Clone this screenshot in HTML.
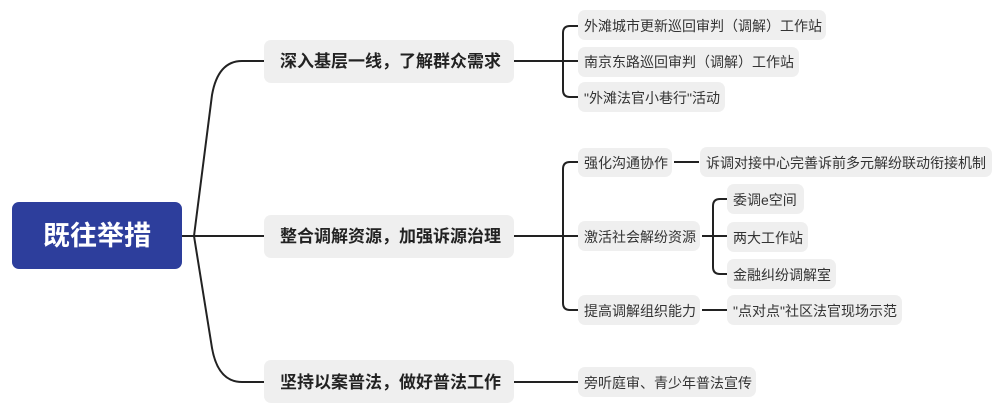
<!DOCTYPE html>
<html><head><meta charset="utf-8"><style>
html,body{margin:0;padding:0;background:#fff;width:999px;height:413px;overflow:hidden}
text{font-family:"Liberation Sans","Noto Sans CJK SC",sans-serif}
.b{font-size:17px;font-weight:bold;fill:#222}
.s{font-size:14px;fill:#333}
</style></head><body>
<svg width="999" height="413" viewBox="0 0 999 413">
<g fill="none" stroke="#222" stroke-width="2">
<path d="M182 236 H194"/>
<path d="M194 236 L212 95 Q218 61 242 61 H264"/>
<path d="M194 236 H264"/>
<path d="M194 236 L212 348 Q218 382 242 382 H264"/>
<path d="M514 61 H578"/>
<path d="M578 26 H570 Q563 26 563 33 V90 Q563 97 570 97 H578"/>
<path d="M514 236 H578"/>
<path d="M578 162 H570 Q563 162 563 169 V303 Q563 310 570 310 H578"/>
<path d="M514 382 H578"/>
<path d="M674 162 H699"/>
<path d="M702 236 H727"/>
<path d="M727 199 H720 Q713 199 713 206 V267 Q713 274 720 274 H727"/>
<path d="M702 310 H727"/>
</g>
<rect x="12" y="202" width="170" height="67" rx="7" fill="#2D3E9C"/>
<text x="97" y="245" text-anchor="middle" font-size="27" font-weight="bold" fill="#fff">既往举措</text>
<g fill="#efefef">
<rect x="264" y="40" width="250" height="43" rx="7"/>
<rect x="264" y="215" width="250" height="43" rx="7"/>
<rect x="264" y="360" width="250" height="43" rx="7"/>
<rect x="578" y="10" width="248" height="30" rx="7"/>
<rect x="578" y="47" width="221" height="30" rx="7"/>
<rect x="578" y="82" width="147" height="30" rx="7"/>
<rect x="578" y="148" width="94" height="29" rx="7"/>
<rect x="700" y="147" width="292" height="30" rx="7"/>
<rect x="578" y="221" width="122" height="30" rx="7"/>
<rect x="727" y="184" width="77" height="30" rx="7"/>
<rect x="727" y="222" width="81" height="30" rx="7"/>
<rect x="727" y="259" width="109" height="30" rx="7"/>
<rect x="578" y="295" width="122" height="30" rx="7"/>
<rect x="727" y="295" width="175" height="30" rx="7"/>
<rect x="578" y="367" width="178" height="30" rx="7"/>
</g>
<text class="b" x="280" y="67">深入基层一线，了解群众需求</text>
<text class="b" x="280" y="242">整合调解资源，加强诉源治理</text>
<text class="b" x="280" y="388">坚持以案普法，做好普法工作</text>
<text class="s" x="584" y="31">外滩城市更新巡回审判（调解）工作站</text>
<text class="s" x="584" y="67">南京东路巡回审判（调解）工作站</text>
<text class="s" x="584" y="103">"外滩法官小巷行"活动</text>
<text class="s" x="584" y="168">强化沟通协作</text>
<text class="s" x="706" y="168">诉调对接中心完善诉前多元解纷联动衔接机制</text>
<text class="s" x="584" y="242">激活社会解纷资源</text>
<text class="s" x="733" y="205">委调e空间</text>
<text class="s" x="733" y="243">两大工作站</text>
<text class="s" x="733" y="280">金融纠纷调解室</text>
<text class="s" x="584" y="316">提高调解组织能力</text>
<text class="s" x="733" y="316">"点对点"社区法官现场示范</text>
<text class="s" x="584" y="388">旁听庭审、青少年普法宣传</text>
</svg>
</body></html>
